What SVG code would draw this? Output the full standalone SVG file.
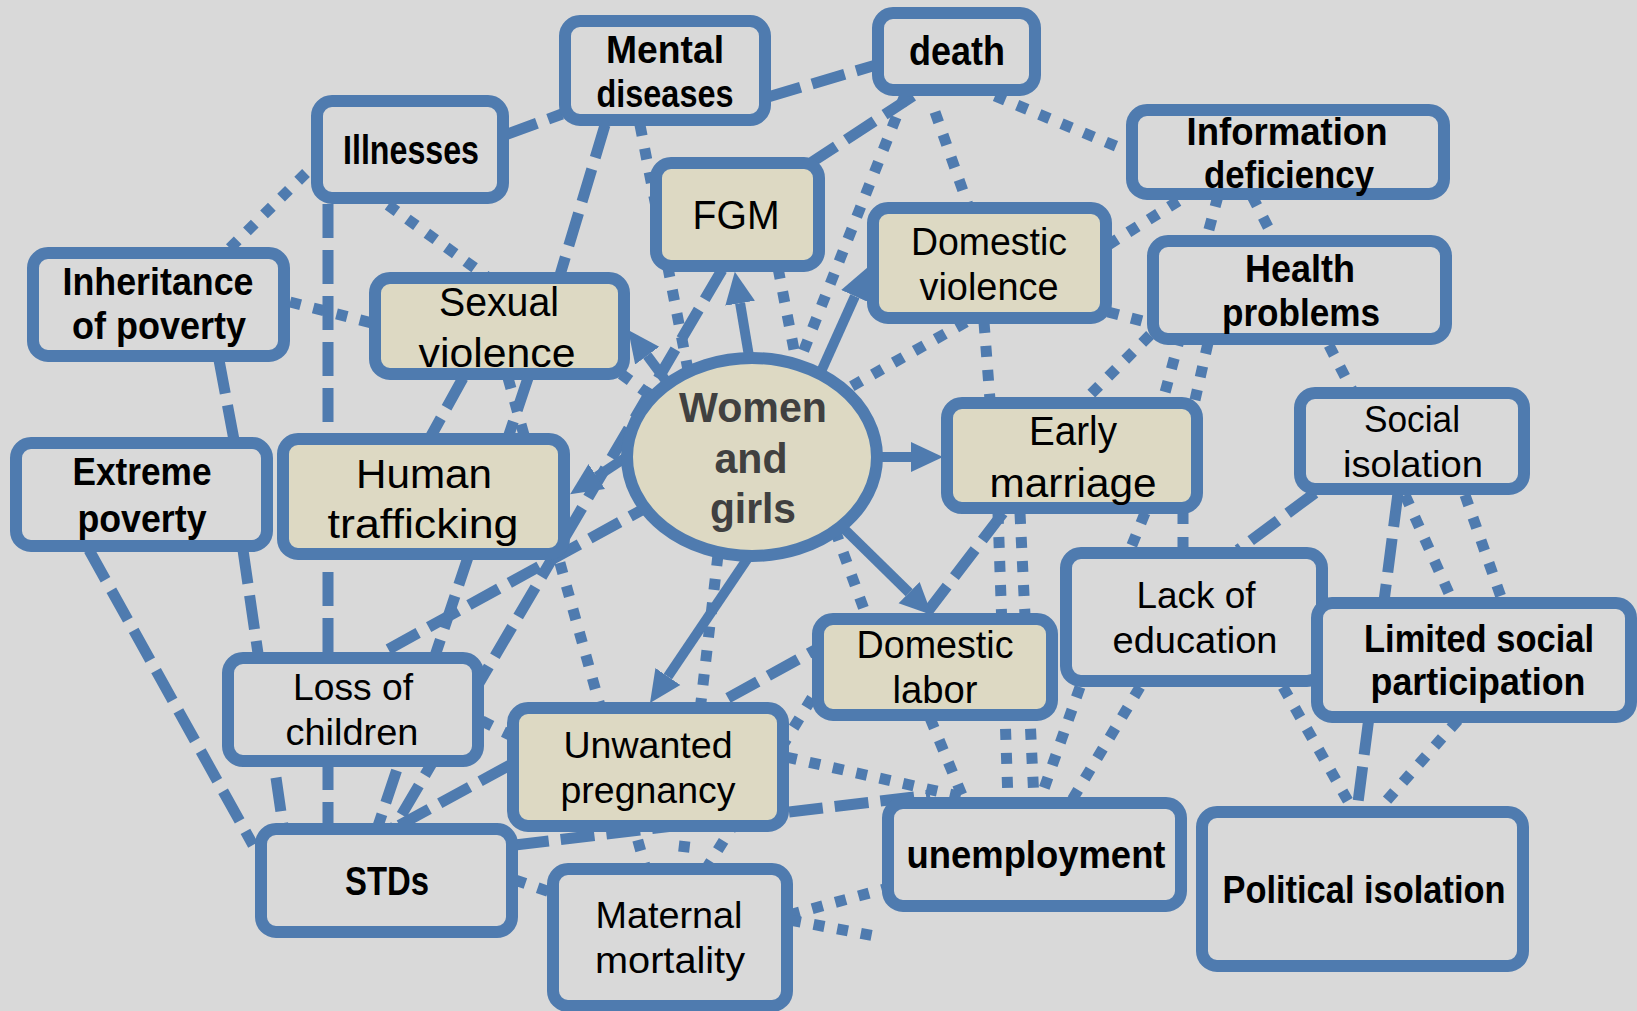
<svg xmlns="http://www.w3.org/2000/svg" width="1637" height="1011" viewBox="0 0 1637 1011">
<defs>
<style>
.bg{fill:#D9D9D9}
.box{fill:#D9D9D9;stroke:#4F7BAF;stroke-width:12}
.tan{fill:#DDD9C3}
.c{fill:none;stroke:#4F7BAF;stroke-width:11}
.ld{stroke-dasharray:34 12}
.dt{stroke-dasharray:11 13}
.ar{stroke-width:10;marker-end:url(#ah)}
text{font-family:"Liberation Sans","Noto Sans",sans-serif;fill:#000;text-anchor:middle}
.b{font-weight:bold}
.r{font-weight:normal}
.wg{fill:#404040;font-weight:bold;font-size:42px}
</style>
<marker id="ah" markerUnits="userSpaceOnUse" markerWidth="34" markerHeight="32" viewBox="0 -16 34 32" refX="0" refY="0" orient="auto">
<path d="M0,-15 L32,0 L0,15 z" fill="#4F7BAF"/>
</marker>
</defs>
<rect class="bg" x="0" y="0" width="1637" height="1011"/>
<g id="connectors">
<line class="c ld" x1="505" y1="135" x2="562" y2="114"/>
<line class="c ld" x1="768" y1="97" x2="876" y2="65"/>
<line class="c ld" x1="605" y1="125" x2="560" y2="275"/>
<line class="c ld" x1="913" y1="96" x2="812" y2="162"/>
<line class="c ld" x1="328" y1="204" x2="328" y2="826"/>
<line class="c ld" x1="89" y1="550" x2="253" y2="845"/>
<line class="c ld" x1="243" y1="550" x2="283" y2="826"/>
<line class="c ld" x1="219" y1="360" x2="234" y2="440"/>
<line class="c ld" x1="463" y1="378" x2="431" y2="436"/>
<line class="c ld" x1="528" y1="378" x2="378" y2="826"/>
<line class="c ld" x1="722" y1="270" x2="395" y2="826"/>
<line class="c ld" x1="660" y1="500" x2="378" y2="655"/>
<line class="c ld" x1="510" y1="765" x2="398" y2="826"/>
<line class="c ld" x1="515" y1="845" x2="930" y2="795"/>
<line class="c ld" x1="728" y1="698" x2="815" y2="650"/>
<line class="c ld" x1="1003" y1="513" x2="925" y2="615"/>
<line class="c ld" x1="1315" y1="493" x2="1238" y2="550"/>
<line class="c ld" x1="1398" y1="493" x2="1357" y2="810"/>
<line class="c dt" x1="290" y1="302" x2="372" y2="323"/>
<line class="c dt" x1="306" y1="173" x2="228" y2="250"/>
<line class="c dt" x1="388" y1="205" x2="650" y2="395"/>
<line class="c dt" x1="640" y1="125" x2="688" y2="370"/>
<line class="c dt" x1="778" y1="268" x2="797" y2="365"/>
<line class="c dt" x1="905" y1="95" x2="800" y2="360"/>
<line class="c dt" x1="935" y1="112" x2="968" y2="205"/>
<line class="c dt" x1="995" y1="96" x2="1130" y2="152"/>
<line class="c dt" x1="1108" y1="245" x2="1180" y2="200"/>
<line class="c dt" x1="1108" y1="312" x2="1150" y2="323"/>
<line class="c dt" x1="966" y1="322" x2="845" y2="390"/>
<line class="c dt" x1="984" y1="322" x2="990" y2="400"/>
<line class="c dt" x1="1218" y1="196" x2="1163" y2="400"/>
<line class="c dt" x1="1252" y1="196" x2="1352" y2="390"/>
<line class="c dt" x1="1150" y1="335" x2="1085" y2="400"/>
<line class="c dt" x1="1208" y1="343" x2="1195" y2="400"/>
<line class="c dt" x1="1145" y1="513" x2="1130" y2="550"/>
<line class="c dt" x1="1183" y1="513" x2="1183" y2="550"/>
<line class="c dt" x1="998" y1="513" x2="1008" y2="800"/>
<line class="c dt" x1="1020" y1="513" x2="1034" y2="800"/>
<line class="c dt" x1="835" y1="530" x2="866" y2="615"/>
<line class="c dt" x1="930" y1="718" x2="964" y2="800"/>
<line class="c dt" x1="812" y1="698" x2="708" y2="866"/>
<line class="c dt" x1="718" y1="555" x2="682" y2="866"/>
<line class="c dt" x1="508" y1="378" x2="645" y2="866"/>
<line class="c dt" x1="786" y1="757" x2="963" y2="797"/>
<line class="c dt" x1="482" y1="721" x2="510" y2="735"/>
<line class="c dt" x1="515" y1="880" x2="550" y2="892"/>
<line class="c dt" x1="789" y1="915" x2="888" y2="888"/>
<line class="c dt" x1="790" y1="920" x2="875" y2="936"/>
<line class="c dt" x1="1080" y1="687" x2="1040" y2="800"/>
<line class="c dt" x1="1140" y1="687" x2="1072" y2="800"/>
<line class="c dt" x1="1283" y1="687" x2="1352" y2="808"/>
<line class="c dt" x1="1458" y1="720" x2="1380" y2="808"/>
<line class="c dt" x1="1405" y1="495" x2="1452" y2="600"/>
<line class="c dt" x1="1465" y1="495" x2="1502" y2="600"/>
<line class="c ar" x1="753" y1="380" x2="740.1" y2="303.2"/>
<line class="c ar" x1="815" y1="385" x2="854.9" y2="296.2"/>
<line class="c ar" x1="672" y1="389" x2="647.2" y2="355.6"/>
<line class="c ar" x1="640" y1="448" x2="596.8" y2="476.6"/>
<line class="c ar" x1="860" y1="457" x2="911" y2="457"/>
<line class="c ar" x1="830" y1="515" x2="909.1" y2="592.6"/>
<line class="c ar" x1="758" y1="543" x2="667.9" y2="676.5"/>
</g>
<g id="n-mental"><rect class="box" x="565" y="21" width="200" height="99" rx="15"/><text class="b" font-size="39" x="665" y="63" textLength="118" lengthAdjust="spacingAndGlyphs">Mental</text><text class="b" font-size="39" x="665" y="107" textLength="137" lengthAdjust="spacingAndGlyphs">diseases</text></g>
<g id="n-death"><rect class="box" x="878" y="13" width="157" height="77" rx="15"/><text class="b" font-size="40" x="957" y="65" textLength="96" lengthAdjust="spacingAndGlyphs">death</text></g>
<g id="n-illnesses"><rect class="box" x="317" y="101" width="186" height="97" rx="15"/><text class="b" font-size="40" x="411" y="164" textLength="136" lengthAdjust="spacingAndGlyphs">Illnesses</text></g>
<g id="n-info"><rect class="box" x="1132" y="110" width="312" height="84" rx="15"/><text class="b" font-size="38" x="1287" y="145" textLength="201" lengthAdjust="spacingAndGlyphs">Information</text><text class="b" font-size="38" x="1289" y="188" textLength="170" lengthAdjust="spacingAndGlyphs">deficiency</text></g>
<g id="n-fgm"><rect class="box tan" x="656" y="163" width="163" height="103" rx="15"/><text class="r" font-size="40" x="736" y="229" textLength="87" lengthAdjust="spacingAndGlyphs">FGM</text></g>
<g id="n-domviol"><rect class="box tan" x="873" y="208" width="233" height="110" rx="15"/><text class="r" font-size="39" x="989" y="255" textLength="156" lengthAdjust="spacingAndGlyphs">Domestic</text><text class="r" font-size="39" x="989" y="300" textLength="139" lengthAdjust="spacingAndGlyphs">violence</text></g>
<g id="n-health"><rect class="box" x="1153" y="241" width="293" height="98" rx="15"/><text class="b" font-size="39" x="1300" y="282" textLength="110" lengthAdjust="spacingAndGlyphs">Health</text><text class="b" font-size="39" x="1301" y="326" textLength="158" lengthAdjust="spacingAndGlyphs">problems</text></g>
<g id="n-inherit"><rect class="box" x="33" y="253" width="251" height="103" rx="15"/><text class="b" font-size="38" x="158" y="295" textLength="191" lengthAdjust="spacingAndGlyphs">Inheritance</text><text class="b" font-size="38" x="159" y="339" textLength="174" lengthAdjust="spacingAndGlyphs">of poverty</text></g>
<g id="n-sexviol"><rect class="box tan" x="375" y="278" width="249" height="96" rx="15"/><text class="r" font-size="41" x="499" y="316" textLength="120" lengthAdjust="spacingAndGlyphs">Sexual</text><text class="r" font-size="41" x="497" y="367" textLength="157" lengthAdjust="spacingAndGlyphs">violence</text></g>
<g id="n-women"><ellipse cx="752" cy="457" rx="125" ry="99" fill="#DDD9C3" stroke="#4F7BAF" stroke-width="12"/><text class="wg" x="753" y="422" textLength="148" lengthAdjust="spacingAndGlyphs">Women</text><text class="wg" x="751" y="473" textLength="73" lengthAdjust="spacingAndGlyphs">and</text><text class="wg" x="753" y="523" textLength="86" lengthAdjust="spacingAndGlyphs">girls</text></g>
<g id="n-early"><rect class="box tan" x="947" y="403" width="250" height="105" rx="15"/><text class="r" font-size="41" x="1073" y="445" textLength="88" lengthAdjust="spacingAndGlyphs">Early</text><text class="r" font-size="41" x="1073" y="497" textLength="167" lengthAdjust="spacingAndGlyphs">marriage</text></g>
<g id="n-socialiso"><rect class="box" x="1300" y="393" width="224" height="96" rx="15"/><text class="r" font-size="37" x="1412" y="432" textLength="96" lengthAdjust="spacingAndGlyphs">Social</text><text class="r" font-size="37" x="1413" y="477" textLength="140" lengthAdjust="spacingAndGlyphs">isolation</text></g>
<g id="n-extreme"><rect class="box" x="16" y="443" width="251" height="103" rx="15"/><text class="b" font-size="38" x="142" y="485" textLength="139" lengthAdjust="spacingAndGlyphs">Extreme</text><text class="b" font-size="38" x="142" y="532" textLength="129" lengthAdjust="spacingAndGlyphs">poverty</text></g>
<g id="n-traffick"><rect class="box tan" x="283" y="439" width="281" height="115" rx="15"/><text class="r" font-size="41" x="424" y="488" textLength="136" lengthAdjust="spacingAndGlyphs">Human</text><text class="r" font-size="41" x="423" y="538" textLength="191" lengthAdjust="spacingAndGlyphs">trafficking</text></g>
<g id="n-educ"><rect class="box" x="1066" y="553" width="256" height="128" rx="15"/><text class="r" font-size="37" x="1196" y="608" textLength="119" lengthAdjust="spacingAndGlyphs">Lack of</text><text class="r" font-size="37" x="1195" y="653" textLength="165" lengthAdjust="spacingAndGlyphs">education</text></g>
<g id="n-limited"><rect class="box" x="1317" y="603" width="314" height="114" rx="15"/><text class="b" font-size="38" x="1479" y="652" textLength="230" lengthAdjust="spacingAndGlyphs">Limited social</text><text class="b" font-size="38" x="1478" y="695" textLength="215" lengthAdjust="spacingAndGlyphs">participation</text></g>
<g id="n-domlabor"><rect class="box tan" x="818" y="619" width="234" height="96" rx="15"/><text class="r" font-size="38" x="935" y="658" textLength="157" lengthAdjust="spacingAndGlyphs">Domestic</text><text class="r" font-size="38" x="935" y="703" textLength="85" lengthAdjust="spacingAndGlyphs">labor</text></g>
<g id="n-losschild"><rect class="box" x="228" y="658" width="250" height="103" rx="15"/><text class="r" font-size="37" x="353" y="700" textLength="120" lengthAdjust="spacingAndGlyphs">Loss of</text><text class="r" font-size="37" x="352" y="745" textLength="133" lengthAdjust="spacingAndGlyphs">children</text></g>
<g id="n-unwanted"><rect class="box tan" x="513" y="708" width="270" height="118" rx="15"/><text class="r" font-size="37" x="648" y="758" textLength="169" lengthAdjust="spacingAndGlyphs">Unwanted</text><text class="r" font-size="37" x="648" y="803" textLength="175" lengthAdjust="spacingAndGlyphs">pregnancy</text></g>
<g id="n-unemp"><rect class="box" x="888" y="803" width="293" height="103" rx="15"/><text class="b" font-size="38" x="1036" y="868" textLength="259" lengthAdjust="spacingAndGlyphs">unemployment</text></g>
<g id="n-political"><rect class="box" x="1202" y="812" width="321" height="154" rx="15"/><text class="b" font-size="38" x="1364" y="903" textLength="283" lengthAdjust="spacingAndGlyphs">Political isolation</text></g>
<g id="n-stds"><rect class="box" x="261" y="829" width="251" height="103" rx="15"/><text class="b" font-size="40" x="387" y="895" textLength="84" lengthAdjust="spacingAndGlyphs">STDs</text></g>
<g id="n-maternal"><rect class="box" x="553" y="869" width="234" height="137" rx="15"/><text class="r" font-size="37" x="669" y="928" textLength="147" lengthAdjust="spacingAndGlyphs">Maternal</text><text class="r" font-size="37" x="670" y="973" textLength="150" lengthAdjust="spacingAndGlyphs">mortality</text></g>
</svg>
